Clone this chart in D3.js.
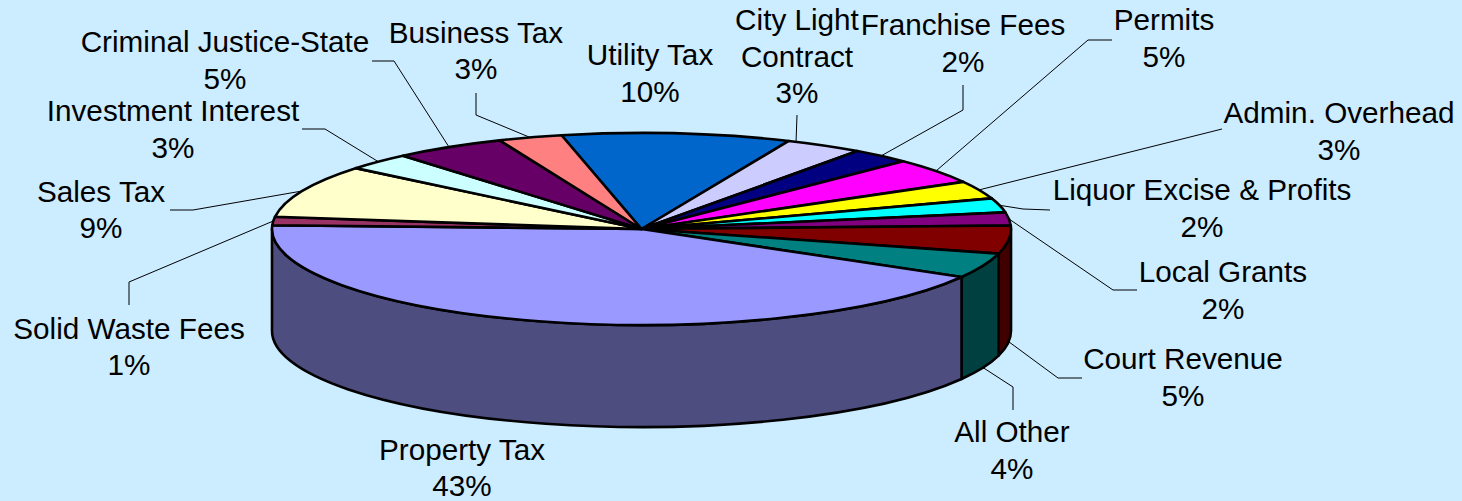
<!DOCTYPE html>
<html>
<head>
<meta charset="utf-8">
<script src="https://cdn.jsdelivr.net/npm/d3@7"></script>
<style>
  html, body { margin: 0; padding: 0; background: #CCECFF; }
  svg { display: block; }
  text { font-family: "Liberation Sans", Arial, sans-serif; font-size: 29.7px; fill: #000; text-anchor: middle; }
</style>
</head>
<body>
<svg id="chart"></svg>
<script>
// clockwise from the back of the pie
const categories = ['Utility Tax', 'City Light Contract', 'Franchise Fees', 'Permits', 'Admin. Overhead',
  'Liquor Excise & Profits', 'Local Grants', 'Court Revenue', 'All Other', 'Property Tax',
  'Solid Waste Fees', 'Sales Tax', 'Investment Interest', 'Criminal Justice-State', 'Business Tax'];
// shares as the slices are drawn in the picture
const shares = [10, 3.4, 2.6, 4.3, 3.0, 2.4, 2.2, 4.7, 4.2, 42.3, 1.4, 8.9, 2.9, 4.9, 2.8];
// printed labels
const percentLabels = ['10%', '3%', '2%', '5%', '3%', '2%', '2%', '5%', '4%', '43%', '1%', '9%', '3%', '5%', '3%'];
const topColors = ['#0066CC', '#CCCCFF', '#000080', '#FF00FF', '#FFFF00', '#00FFFF', '#800080', '#800000',
  '#008080', '#9999FF', '#993366', '#FFFFCC', '#CCFFFF', '#660066', '#FF8080'];

// label layout: centre x, first baseline, then leader points; at = where on the slice the leader lands
const labelLayout = [
  { x: 650, y: 65, lines: ['Utility Tax'] },
  { x: 797, y: 30, lines: ['City Light', 'Contract'], leader: [[797, 115]], at: 0.1 },
  { x: 963, y: 35, lines: ['Franchise Fees'], leader: [[963, 85], [963, 110]] },
  { x: 1164, y: 30, lines: ['Permits'], leader: [[1112, 40], [1088, 40]] },
  { x: 1339, y: 123, lines: ['Admin. Overhead'], leader: [[1222, 129]] },
  { x: 1202, y: 200, lines: ['Liquor Excise & Profits'], leader: [[1050, 210], [1023, 209]] },
  { x: 1223, y: 282, lines: ['Local Grants'], leader: [[1137, 290], [1113, 290]] },
  { x: 1183, y: 369, lines: ['Court Revenue'], leader: [[1082, 378], [1058, 378]], low: true },
  { x: 1012, y: 442, lines: ['All Other'], leader: [[1013, 410], [1013, 387]], low: true },
  { x: 462, y: 459.5, lines: ['Property Tax'] },
  { x: 129, y: 338.5, lines: ['Solid Waste Fees'], leader: [[129, 305], [129, 282]] },
  { x: 101, y: 201.5, lines: ['Sales Tax'], leader: [[170, 210], [193, 210]] },
  { x: 173, y: 121, lines: ['Investment Interest'], leader: [[302, 129], [325, 129]] },
  { x: 225, y: 52, lines: ['Criminal Justice-State'], leader: [[372, 61], [394, 61]] },
  { x: 476, y: 42.5, lines: ['Business Tax'], leader: [[476, 93], [476, 115]] }
];

const width = 1462;
const height = 501;
const depth = 102;
const startDeg = -12.5;

const svg = d3.select('#chart').attr('width', width).attr('height', height);
svg.append('rect').attr('width', width).attr('height', height).attr('fill', '#CCECFF');

// unit circle to the tilted ellipse
const xScale = d3.scaleLinear().domain([-1, 1]).range([272, 1011]);
const yScale = d3.scaleLinear().domain([1, -1]).range([133, 325]);
const rx = (xScale(1) - xScale(-1)) / 2;
const ry = (yScale(-1) - yScale(1)) / 2;
const rim = (a, drop = 0) => [xScale(Math.sin(a)), yScale(Math.cos(a)) + drop];

const pie = d3.pie().value(d => d).sort(null)
  .startAngle(startDeg * Math.PI / 180)
  .endAngle(startDeg * Math.PI / 180 + 2 * Math.PI);
const slices = pie(shares);

const topPath = d => {
  const [x0, y0] = rim(d.startAngle);
  const [x1, y1] = rim(d.endAngle);
  return `M${xScale(0)},${yScale(0)}L${x0},${y0}A${rx},${ry} 0 0 1 ${x1},${y1}Z`;
};
const wallPath = (a0, a1) => {
  const [x0, y0] = rim(a0);
  const [x1, y1] = rim(a1);
  return `M${x0},${y0}A${rx},${ry} 0 0 1 ${x1},${y1}L${x1},${y1 + depth}A${rx},${ry} 0 0 0 ${x0},${y0 + depth}Z`;
};

// only the front half of the rim has a visible wall
const walls = slices.map((d, i) => ({
  a0: Math.max(d.startAngle, Math.PI / 2),
  a1: Math.min(d.endAngle, 3 * Math.PI / 2),
  base: topColors[i]
})).filter(w => w.a1 > w.a0);

svg.append('g').selectAll('path').data(walls).join('path')
  .attr('d', w => wallPath(w.a0, w.a1))
  .attr('fill', w => {
    const c = d3.rgb(w.base);
    return d3.rgb(c.r / 2, c.g / 2, c.b / 2).toString();
  })
  .attr('stroke', '#000').attr('stroke-width', 2.6).attr('stroke-linejoin', 'round');

svg.append('g').selectAll('path').data(slices).join('path')
  .attr('d', topPath)
  .attr('fill', (d, i) => topColors[i])
  .attr('stroke', '#000').attr('stroke-width', 2.6).attr('stroke-linejoin', 'round');

// leader lines end on the rim, by default at the slice middle
const lineGen = d3.line();
svg.append('g').selectAll('path')
  .data(slices.map((d, i) => ({ d, l: labelLayout[i] })).filter(o => o.l.leader))
  .join('path')
  .attr('d', o => {
    const f = o.l.at === undefined ? 0.5 : o.l.at;
    const a = o.d.startAngle + (o.d.endAngle - o.d.startAngle) * f;
    return lineGen([...o.l.leader, rim(a, o.l.low ? depth : 0)]);
  })
  .attr('fill', 'none').attr('stroke', '#000').attr('stroke-width', 1);

const labels = svg.append('g').selectAll('text').data(labelLayout).join('text')
  .attr('x', d => d.x).attr('y', d => d.y);
labels.selectAll('tspan')
  .data((d, i) => [...d.lines, percentLabels[i]].map(t => ({ t, x: d.x })))
  .join('tspan')
  .attr('x', d => d.x)
  .attr('dy', (d, i) => i ? 36.5 : 0)
  .text(d => d.t);
</script>
</body>
</html>
